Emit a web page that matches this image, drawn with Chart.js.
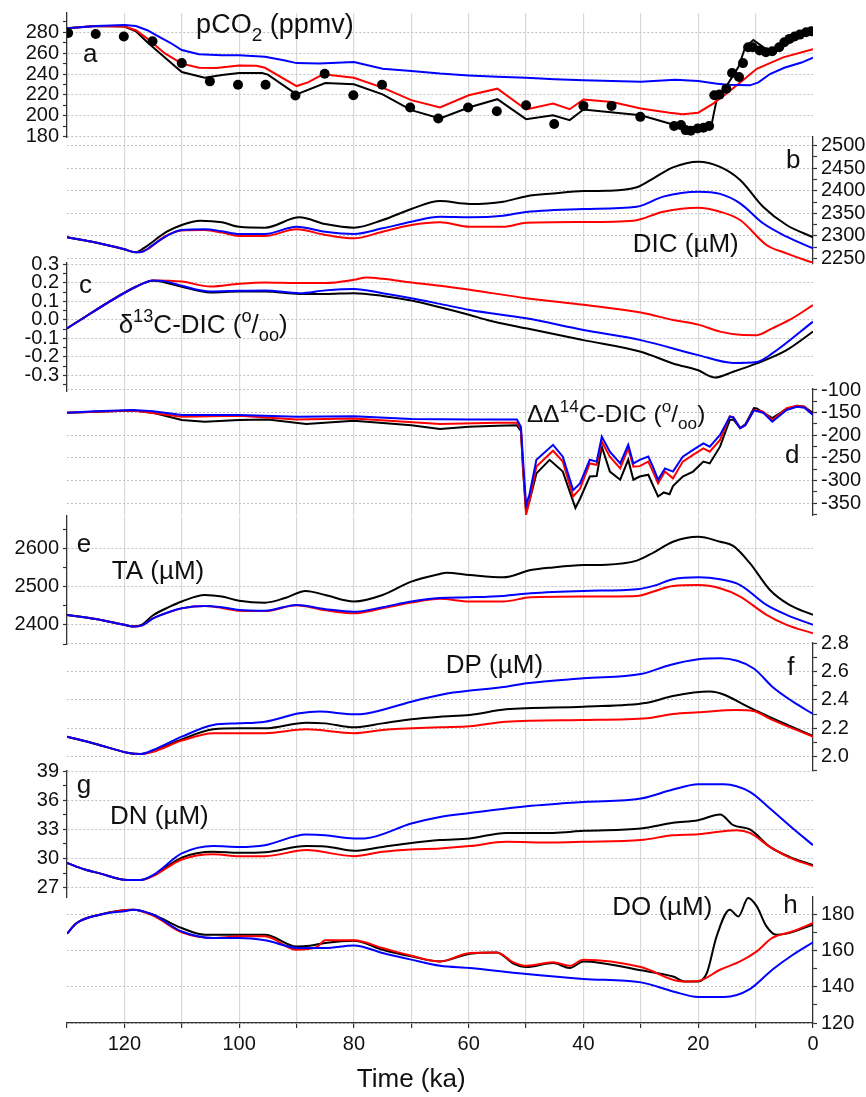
<!DOCTYPE html>
<html>
<head>
<meta charset="utf-8">
<script src="https://cdn.jsdelivr.net/npm/chart.js@4/dist/chart.umd.min.js"></script>
<style>
  html, body { margin: 0; padding: 0; background: #fff; }
  #figure { position: relative; width: 866px; height: 1097px; overflow: hidden; }
  #figure canvas { position: absolute; left: 0; }
</style>
</head>
<body>
<div id="figure"></div>
<script>
// ---- data: [age (ka), value] ----
const pco2Obs = [[129.8,279.4],[125,278.4],[120.1,275.9],[115.1,271.4],[110,250.5],[105.1,233],[100.2,229.8],[95.4,229.8],[90.2,219.4],[85.1,240.3],[80.1,219.7],[75.1,229.8],[70.2,207.9],[65.3,197.5],[60.1,208],[55.1,204.4],[50,210.2],[45.1,192.1],[40,209.5],[35.1,209.5],[30.1,199],[24.2,190.2],[23,191.1],[22.2,186.3],[21.3,185.7],[20.1,187.9],[19.1,188.6],[18.1,190.2],[17.2,219.7],[16.3,220.3],[15.1,226],[14.1,241],[12.9,237.1],[12.2,250.5],[11.3,265.7],[10.5,265.7],[9.3,262.5],[8.2,261],[7.1,261.9],[5.9,265.7],[5,270.5],[4.1,273.7],[3.2,275.9],[2.3,277.8],[1.2,280],[0.3,281]];
const pco2Black = [[130,284],[125,286],[120,285.5],[118,281],[116,270.5],[113,256],[110,242],[106,236.5],[103,239],[100,241],[96,241],[95,239.5],[90,220.6],[85,231.4],[80,230.2],[75,220.6],[70,205.4],[65,197.5],[60,208],[55,215.9],[50,196.8],[45.3,200.6],[42.4,195.9],[40,206],[30,200.6],[24.4,191.7],[22,188],[20.3,186.3],[18.5,188],[17.7,191],[16.8,215],[15,229.2],[13,246.7],[11.8,265.7],[10.4,272.7],[8.8,266.3],[7.1,259.4],[4.6,268.9],[0,282.2]];
const pco2Red = [[130,284],[125,286],[120,285.5],[118,282],[116,274],[113,260],[110,250],[107,246],[104,245.7],[100,248.3],[97,248],[95.5,246],[90,228.5],[88,232],[85.4,239.7],[80,236.5],[75,227],[70,215],[65,208],[60,219.7],[55,226],[50,206],[45.3,211.7],[42.4,206.3],[40,215.6],[35,213.3],[30,207],[25,203],[22.7,201.6],[20,203],[17.4,211.7],[14.5,223.8],[12,235],[9.8,245],[5.2,256],[0,263.8]];
const pco2Blue = [[130,284],[125,286],[120,287],[118,286],[116,282],[114.4,277],[112,270],[110,263],[107,259],[103,258],[100,258],[95.5,256.5],[92,253],[90,250.5],[86,250],[80,251.5],[75,245],[70,243],[65,240.5],[60,238.7],[55,237.5],[50,236.5],[45,235],[40,234],[30,232.7],[24,234.6],[20,233.3],[17,231],[15,229.8],[11,229.2],[9.5,232],[7.5,240],[5,246],[2,251],[0,255.6]];

const dicBlack = [[130,2296.6],[125,2285],[120,2270],[118,2263.3],[116.7,2272],[112.6,2309],[110,2324],[106.8,2333.5],[103,2330],[100,2320],[95.5,2318],[89.5,2341],[85,2326],[80,2318],[75,2335],[70,2359.5],[65,2377],[59.8,2370.6],[54,2375.7],[49.9,2388],[45.3,2394],[40,2399.4],[36,2400],[30.7,2407.6],[27.8,2427.6],[24.4,2452],[20,2464.5],[16.2,2453],[12.7,2424],[8.7,2364.6],[4.6,2324],[0,2296.7]];
const dicRed = [[130,2296.6],[125,2285],[120,2270],[118,2263.3],[116,2270],[113,2298],[110,2312],[106,2313],[103,2307],[100,2299.5],[95.5,2299.5],[90,2314.4],[85,2302],[80,2294.3],[75,2309],[70,2324],[65,2330],[59.8,2320],[54,2320],[49.9,2329],[40,2330.6],[31.3,2333.5],[26.1,2353.5],[20,2362.3],[16.2,2353.5],[12.7,2335],[8.1,2279.6],[4.6,2261],[0,2240]];
const dicBlue = [[130,2296.6],[125,2285],[120,2270],[118,2263.3],[117,2264],[115,2280],[112.6,2300],[110,2312.8],[106,2314.4],[103,2310],[100,2304],[95.5,2304],[90,2320],[85,2309],[80,2304],[75,2316.6],[70,2331],[65,2342],[59.8,2341],[54,2344.6],[50,2353],[40,2359.5],[30.7,2364.6],[26.1,2387],[20,2398],[16.2,2393],[12.7,2372],[8.7,2327.7],[4.6,2298],[0,2272]];

const d13cBlack = [[130,-0.045],[117.9,0.181],[115,0.212],[110,0.18],[105,0.149],[100,0.154],[95.5,0.154],[89.5,0.141],[85,0.14],[80,0.145],[75,0.13],[70,0.105],[65,0.069],[59.8,0.027],[56.8,0],[50,-0.045],[40,-0.109],[30,-0.172],[24.4,-0.235],[20,-0.272],[17.1,-0.311],[13.9,-0.28],[9.8,-0.235],[4.6,-0.163],[0,-0.063]];
const d13cRed = [[130,-0.045],[117.9,0.181],[115,0.214],[110,0.208],[105,0.181],[100,0.196],[95.5,0.203],[90,0.2],[85,0.2],[80,0.217],[77.8,0.23],[75,0.223],[70,0.203],[65,0.185],[59.8,0.163],[50,0.118],[40,0.082],[30,0.04],[24.4,0],[20,-0.025],[16.2,-0.063],[12.7,-0.08],[9.8,-0.082],[7.1,-0.045],[4.1,0],[0,0.08]];
const d13cBlue = [[130,-0.045],[117.9,0.181],[115,0.214],[113,0.21],[110,0.185],[105,0.154],[100,0.158],[95.5,0.16],[89.5,0.145],[85,0.16],[80,0.168],[75,0.145],[70,0.118],[65,0.087],[59.8,0.054],[50,0.009],[40,-0.054],[30,-0.109],[20,-0.19],[13.9,-0.232],[9.8,-0.227],[7.1,-0.181],[0,-0.009]];

const d14cBlack = [[130,-150],[118.5,-145],[115,-150],[110,-166],[106,-170],[100,-166],[95,-165],[88.3,-175],[80,-168],[70,-178],[65,-186],[60,-181],[55,-179],[51.6,-178],[50.9,-190],[50.5,-280],[50,-366],[49.4,-345],[48.2,-284],[45.9,-254],[43.6,-280],[41.4,-360],[40.6,-340],[38.9,-291],[37.7,-290],[36.8,-225],[35.4,-280],[33.6,-298],[32.2,-254],[31.3,-298],[30.2,-291],[28.7,-287],[27.9,-310],[27,-335],[26,-326],[25,-330],[24.4,-312],[22.7,-291],[20.9,-280],[19.1,-258],[18,-262],[16.2,-225],[14.5,-166],[13.9,-165],[12.7,-184],[11.8,-176],[10.3,-140],[9.8,-141],[7.1,-162],[4.6,-142],[2.8,-135],[1.5,-137],[0,-151]];
const d14cRed = [[130,-150],[118.5,-145],[110,-159],[100,-157],[90,-165],[80,-163],[65,-175],[55,-172],[51.6,-172],[50.9,-186],[50.5,-280],[50,-375],[49.4,-345],[48.2,-269],[45.3,-234],[43.6,-258],[41.8,-335],[40.6,-318],[38.9,-262],[37.7,-265],[36.8,-214],[35.4,-247],[33.6,-273],[32.2,-229],[31.3,-269],[30.2,-268],[28.7,-258],[27.9,-280],[27,-306],[25.8,-280],[24.4,-295],[22.7,-258],[20.9,-243],[19.1,-229],[18,-236],[16.2,-210],[14.5,-158],[13.9,-160],[12.7,-184],[11.8,-178],[10.3,-144],[8.7,-148],[7.1,-166],[4.6,-140],[2.8,-135],[1.5,-137],[0,-154]];
const d14cBlue = [[130,-150],[125,-147],[118.5,-144],[115,-147],[110,-155],[100,-155],[90,-159],[80,-158],[70,-164],[60,-165],[51.6,-165],[50.9,-181],[50.5,-260],[50,-354],[49.4,-330],[48.2,-254],[45.3,-221],[43.6,-247],[41.8,-321],[40.6,-306],[38.9,-254],[37.7,-258],[36.8,-203],[35.4,-236],[33.6,-262],[32.2,-221],[31.3,-262],[30.2,-254],[28.7,-247],[27.9,-269],[27,-298],[25.8,-273],[24.4,-280],[22.7,-247],[20.9,-232],[19.1,-218],[18,-225],[16.2,-199],[14.5,-159],[13.9,-160],[12.7,-184],[11.8,-178],[10.3,-145],[8.7,-150],[7.1,-170],[4.6,-144],[2.8,-137],[1.5,-139],[0,-155]];

const taBlack = [[130,2426],[125,2415],[120,2400],[118.5,2396],[117,2400],[115,2425],[112,2448],[110,2461],[106,2478],[103,2474],[100,2463],[95.5,2458],[92,2470],[88.4,2488.6],[85,2478],[80,2461],[75,2478],[70,2513],[65,2533],[63.9,2536],[59.8,2530],[54,2524],[49.2,2543],[45.3,2550],[40,2556],[36,2557],[30.7,2567.7],[27.8,2588.6],[24.4,2617],[20,2630],[16.2,2617],[13.9,2606],[11,2561],[7.5,2491],[4.1,2452],[0,2426]];
const taRed = [[130,2426],[125,2415],[120,2400],[118.5,2395.6],[117,2398],[115,2417],[112,2434],[110,2443],[106,2449],[103,2444],[100,2437],[95.5,2436],[90,2451],[85,2438],[80,2430],[75,2443],[70,2458],[65,2468],[59.8,2461],[54,2461],[49.2,2472],[40,2474],[30.7,2475.6],[27.8,2487],[24.4,2501.7],[20,2504],[16.2,2495.6],[12.7,2474],[8.1,2426],[4.6,2400],[0,2378]];
const taBlue = [[130,2426],[125,2415],[120,2400],[118.5,2395.6],[117,2398],[115,2417],[112,2435],[110,2443.5],[106,2449.5],[103,2446],[100,2439],[95.5,2437],[90,2452],[85,2441],[80,2434],[75,2446],[70,2461],[65,2470],[59.8,2472],[54,2475.6],[49.2,2482.6],[40,2488.6],[30.7,2493],[27.8,2501.7],[24.4,2519],[20,2524],[16.2,2519],[12.7,2504],[8.1,2452],[4.6,2426],[0,2400]];

const dpBlack = [[130,2.141],[125,2.09],[119.5,2.028],[117.2,2.019],[115,2.04],[110,2.122],[104.5,2.193],[100,2.2],[95.5,2.2],[88.3,2.24],[85,2.235],[80,2.207],[75,2.235],[70,2.264],[65,2.282],[59.8,2.294],[53.5,2.334],[40,2.353],[28.9,2.381],[24.4,2.428],[18,2.459],[10.4,2.334],[7.1,2.271],[0,2.146]];
const dpRed = [[130,2.141],[125,2.09],[119.5,2.028],[117.2,2.019],[115,2.035],[110,2.113],[104.5,2.165],[100,2.165],[95.5,2.165],[88.3,2.193],[80,2.165],[75,2.188],[65,2.207],[59.8,2.214],[53.5,2.247],[40,2.259],[28.9,2.271],[24.4,2.301],[20,2.313],[13.3,2.329],[10.4,2.322],[7.1,2.26],[0,2.141]];
const dpBlue = [[130,2.141],[125,2.09],[119.5,2.028],[117.2,2.019],[115,2.047],[110,2.141],[104.5,2.224],[100,2.235],[95.5,2.247],[89.5,2.306],[86,2.318],[80,2.299],[77.8,2.305],[70,2.388],[65,2.435],[62.7,2.452],[53.5,2.494],[49.9,2.518],[40,2.553],[30,2.583],[24.9,2.647],[20,2.687],[16.2,2.694],[10.4,2.624],[7.1,2.494],[3.5,2.388],[0,2.301]];

const dnBlack = [[130,29.56],[127,28.9],[124.3,28.48],[119.5,27.79],[117.2,27.79],[115,28.25],[110,30.1],[104.5,30.7],[100,30.59],[95.5,30.65],[88.3,31.28],[85,31.25],[80,30.8],[75,31.2],[70,31.6],[65,31.9],[59.8,32.07],[53.5,32.64],[45.3,32.64],[40,32.85],[30,33.09],[24.4,33.67],[20,33.94],[16.2,34.53],[13.9,33.43],[11,32.99],[7.5,31.2],[4.1,30.18],[0,29.33]];
const dnRed = [[130,29.56],[127,28.9],[124.3,28.48],[119.5,27.79],[117.2,27.79],[115,28.2],[110,29.9],[104.5,30.45],[100,30.25],[95.5,30.25],[88.3,30.87],[80,30.25],[75,30.7],[70,30.94],[65,31.04],[59.8,31.28],[53.5,31.72],[45.3,31.65],[40,31.72],[30,31.9],[24.4,32.4],[20,32.5],[13.3,32.92],[11,32.64],[7.5,31.2],[4.1,30.1],[0,29.23]];
const dnBlue = [[130,29.56],[127,28.9],[124.3,28.48],[119.5,27.79],[117.2,27.79],[115,28.3],[110,30.53],[104.5,31.3],[100,31.2],[95.5,31.38],[88.3,32.47],[85,32.4],[80,32.07],[77.8,32.1],[70,33.6],[65,34.28],[59.8,34.69],[49.9,35.38],[40,35.82],[30,36.17],[24.4,37.09],[20,37.64],[15.5,37.64],[11,36.85],[7.5,35.14],[3.5,33.09],[0,31.38]];

const doBlack = [[130,169.5],[128.3,175.4],[124.3,180],[118.5,182.8],[115,180],[110,172.6],[106,168.9],[100,168.9],[95.5,168.9],[90,162.4],[87.7,162.8],[85,164.3],[80,165.6],[75,160.6],[70,156.9],[65,154.1],[59.8,158.4],[55.1,159.1],[52.2,152.9],[49.9,151],[45.3,153.2],[42.4,150.5],[40,154.1],[30,149.2],[24.4,145.8],[22.2,143],[20,143],[18.5,147.7],[16.8,168],[14.5,182.8],[13,179],[11.3,189.2],[9.8,184.6],[8.1,173.5],[6.4,168.9],[4.6,169.5],[0,174.5]];
const doRed = [[130,169.5],[128.3,175.4],[124.3,180],[118.5,182.8],[115,179.5],[110,170.2],[104.5,167.1],[100,168],[95.5,168],[90,160.6],[86.5,162],[85,165.8],[80,165.8],[75,161.5],[70,157.3],[65,154.1],[59.8,158.8],[55.1,159.1],[52.2,153.6],[49.9,151.7],[45.3,153.6],[42.4,151.7],[40,155.1],[30,151],[22.7,143],[20,143.3],[16.2,149.5],[12.7,154.1],[9.8,159.7],[7.1,167.1],[3.5,170.8],[0,175.4]];
const doBlue = [[130,169.5],[128.3,175.4],[124.3,180],[119.5,182.2],[118.5,182.8],[115,180],[110,170.7],[104.5,167.1],[100,167.1],[95.5,165.8],[89.5,161.5],[85,161.5],[80,163],[75,158.8],[70,155.1],[65,151.7],[59.8,150.5],[49.9,147.1],[40,144.4],[30,142.5],[24.4,137.5],[20,134.4],[15.5,134.4],[11,138.8],[7.1,149.5],[3.5,157.8],[0,164.7]];

// ---- tick labels ----
const timeTicks = [0, 10, 20, 30, 40, 50, 60, 70, 80, 90, 100, 110, 120, 130];
const timeLabels = [0, 20, 40, 60, 80, 100, 120];
const pco2Ticks = [180, 200, 220, 240, 260, 280];
const dicTicks = [2250, 2300, 2350, 2400, 2450, 2500];
const d13cTicks = [-0.3, -0.2, -0.1, 0.0, 0.1, 0.2, 0.3];
const d14cTicks = [-350, -300, -250, -200, -150, -100];
const taTicks = [2400, 2500, 2600];
const dpTicks = [2.0, 2.2, 2.4, 2.6, 2.8];
const dnTicks = [27, 30, 33, 36, 39];
const doTicks = [120, 140, 160, 180];

// ---- look ----
const FONT = "'Liberation Sans', Arial, sans-serif";
const TEXT = '#111';
const AXIS = '#333';
const LINE_COLORS = ['#0000ff', '#ff0000', '#000000']; // blue, red, black
const W = 866, PLOT_LEFT = 67, PLOT_RIGHT = 813, PAD = 18, X_AXIS_H = 74;

Chart.defaults.font.family = FONT;
Chart.defaults.color = TEXT;

const DELTA = [['C-DIC ('], ['o', 'sup'], ['/'], ['oo', 'sub'], [')']];

// stacked panels, top to bottom; top/bottom are plot-area pixels on the page
const panels = [
  { top: 13, bottom: 137, min: 179.7, max: 298.5, side: 'left', minor: 10, ticks: pco2Ticks, digits: 0, straight: true,
    series: [pco2Blue, pco2Red, pco2Black], dots: pco2Obs,
    labels: [{ at: [127.2, 251.5], runs: [['a']] },
             { at: [107.5, 279.3], size: 27, runs: [['pCO'], ['2', 'sub'], [' (ppmv)']] }] },
  { top: 137, bottom: 263, min: 2239.6, max: 2519.3, side: 'right', minor: 25, ticks: dicTicks, digits: 0,
    series: [dicBlue, dicRed, dicBlack],
    labels: [{ at: [4.7, 2450.5], runs: [['b']] },
             { at: [31.4, 2264], runs: [['DIC (µM)']] }] },
  { top: 263, bottom: 391, min: -0.384, max: 0.308, side: 'left', minor: 0.05, ticks: d13cTicks, digits: 1,
    series: [d13cBlue, d13cRed, d13cBlack],
    labels: [{ at: [127.9, 0.146], runs: [['c']] },
             { at: [121, -0.07], size: 26, runs: [['δ'], ['13', 'sup']].concat(DELTA) }] },
  { top: 389, bottom: 515, min: -375.8, max: -97.8, side: 'right', minor: 25, ticks: d14cTicks, digits: 0, straight: true,
    series: [d14cBlue, d14cRed, d14cBlack],
    labels: [{ at: [4.9, -261], runs: [['d']] },
             { at: [49.85, -170.6], size: 24.5, runs: [['ΔΔ'], ['14', 'sup']].concat(DELTA) }] },
  { top: 516, bottom: 644, min: 2350, max: 2684.2, side: 'left', minor: 50, ticks: taTicks, digits: 0,
    series: [taBlue, taRed, taBlack],
    labels: [{ at: [128.3, 2590], runs: [['e']] },
             { at: [122.2, 2520], runs: [['TA (µM)']] }] },
  { top: 643, bottom: 771, min: 1.899, max: 2.802, side: 'right', minor: 0.1, ticks: dpTicks, digits: 1,
    series: [dpBlue, dpRed, dpBlack],
    labels: [{ at: [4.5, 2.576], runs: [['f']] },
             { at: [64, 2.59], runs: [['DP (µM)']] }] },
  { top: 771, bottom: 897, min: 26.05, max: 39, side: 'left', minor: 1.5, ticks: dnTicks, digits: 0,
    series: [dnBlue, dnRed, dnBlack],
    labels: [{ at: [128.3, 36.7], runs: [['g']] },
             { at: [122.5, 33.6], runs: [['DN (µM)']] }] },
  { top: 897, bottom: 1023, min: 120, max: 189.8, side: 'right', minor: 10, ticks: doTicks, digits: 0,
    series: [doBlue, doRed, doBlack],
    labels: [{ at: [5.2, 181.1], runs: [['h']] },
             { at: [35, 180], runs: [['DO (µM)']] },
             { at: [79.5, 120], dy: 64, runs: [['Time (ka)']] }] }
];

const toXY = rows => rows.map(([t, v]) => ({ x: t, y: v }));

function stepTicks(min, max, step) {
  const out = [];
  for (let k = Math.ceil(min / step - 1e-6); k * step <= max + 1e-9; k++) out.push(+(k * step).toFixed(6));
  return out;
}

// panel letters and quantity names, with sub/superscript runs
function textPlugin(items) {
  return {
    id: 'panelText',
    afterDraw(chart) {
      const { ctx, scales: { x, y } } = chart;
      ctx.save();
      ctx.fillStyle = TEXT;
      ctx.textAlign = 'left';
      ctx.textBaseline = 'alphabetic';
      items.forEach(item => {
        const size = item.size || 26;
        let px = x.getPixelForValue(item.at[0]);
        const py = y.getPixelForValue(item.at[1]) + (item.dy || 0);
        item.runs.forEach(([text, kind]) => {
          const s = kind ? size * 0.7 : size;
          const shift = kind === 'sub' ? size * 0.3 : kind === 'sup' ? -size * 0.42 : 0;
          ctx.font = s + 'px ' + FONT;
          ctx.fillText(text, px, py + shift);
          px += ctx.measureText(text).width;
        });
      });
      ctx.restore();
    }
  };
}

function timeAxis(bottom) {
  return {
    type: 'linear', min: 0, max: 130, reverse: true,
    afterBuildTicks: s => { s.ticks = timeTicks.map(v => ({ value: v })); },
    afterFit: s => { s.height = bottom ? X_AXIS_H : 0; },
    grid: {
      color: c => (c.tick && (c.tick.value === 0 || c.tick.value === 130)) ? 'rgba(0,0,0,0)' : '#d9d9d9',
      lineWidth: 1.2, drawTicks: bottom, tickLength: 5, tickColor: AXIS, tickWidth: 1.2
    },
    border: { display: bottom, color: AXIS, width: 1.3 },
    ticks: {
      display: bottom, autoSkip: false, maxRotation: 0, minRotation: 0, padding: 4,
      color: TEXT, font: { size: 20 },
      callback: v => timeLabels.includes(v) ? String(v) : ''
    }
  };
}

function valueAxis(p) {
  const isMajor = v => p.ticks.some(m => Math.abs(m - v) < p.minor / 100);
  return {
    type: 'linear', position: p.side, min: p.min, max: p.max,
    afterBuildTicks: s => { s.ticks = stepTicks(p.min, p.max, p.minor).map(v => ({ value: v })); },
    afterFit: s => { s.width = p.side === 'left' ? PLOT_LEFT : W - PLOT_RIGHT; },
    grid: {
      color: c => (c.tick && isMajor(c.tick.value)) ? '#c2c2c2' : 'rgba(0,0,0,0)',
      lineWidth: 1, tickLength: 4, tickColor: AXIS, tickWidth: 1.2
    },
    border: { display: true, color: AXIS, width: 1.3, dash: [2, 2] },
    ticks: {
      autoSkip: false, padding: 4, color: TEXT, font: { size: 20 },
      callback: v => isMajor(v) ? Number(v).toFixed(p.digits) : ''
    }
  };
}

const figure = document.getElementById('figure');

panels.forEach((p, i) => {
  const last = i === panels.length - 1;
  const padBottom = last ? 0 : PAD;
  const h = PAD + (p.bottom - p.top) + padBottom + (last ? X_AXIS_H : 0);
  const canvas = document.createElement('canvas');
  canvas.width = W;
  canvas.height = h;
  canvas.style.width = W + 'px';
  canvas.style.height = h + 'px';
  canvas.style.top = (p.top - PAD) + 'px';
  figure.appendChild(canvas);

  const datasets = [];
  if (p.dots) {
    datasets.push({ data: toXY(p.dots), showLine: false, pointRadius: 5, pointBackgroundColor: '#000', pointBorderWidth: 0 });
  }
  p.series.forEach((s, k) => datasets.push({
    data: toXY(s), borderColor: LINE_COLORS[k], borderWidth: 2, pointRadius: 0, fill: false,
    tension: 0, cubicInterpolationMode: p.straight ? 'default' : 'monotone'
  }));

  new Chart(canvas, {
    type: 'line',
    data: { datasets },
    options: {
      responsive: false, animation: false, devicePixelRatio: 1, events: [],
      layout: { padding: {
        top: PAD, bottom: padBottom,
        left: p.side === 'left' ? 0 : PLOT_LEFT,
        right: p.side === 'left' ? W - PLOT_RIGHT : 0
      } },
      scales: { x: timeAxis(last), y: valueAxis(p) },
      plugins: { legend: { display: false }, tooltip: { enabled: false } }
    },
    plugins: [textPlugin(p.labels)]
  });
});
</script>
</body>
</html>
